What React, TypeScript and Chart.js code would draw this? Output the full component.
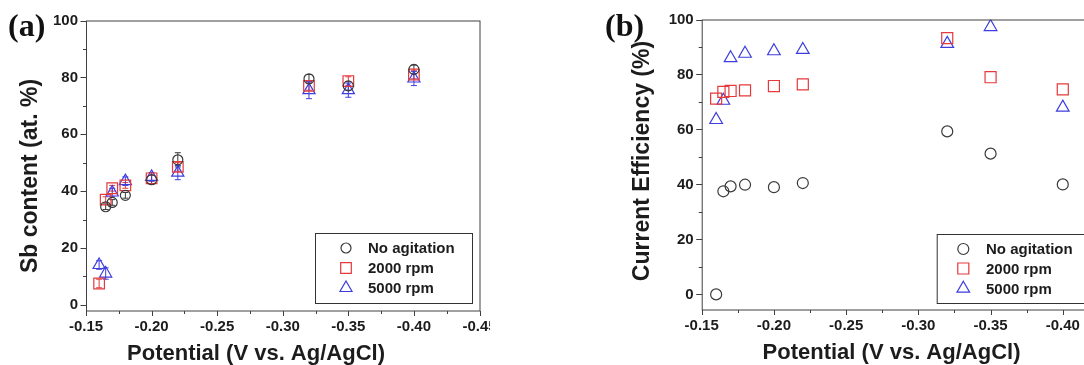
import React, { useEffect, useRef } from "react";
import { Chart, registerables } from "chart.js";

Chart.register(...registerables);

// ---- Panel (a): Sb content (at. %) versus deposition potential ----
const sbPotentialNone = [-0.165, -0.17, -0.18, -0.2, -0.22, -0.32, -0.35, -0.4];
const sbNone = [34.5, 36, 38.5, 44, 51, 79.5, 77, 82.8];
const sbNoneErr = [1, 1, 1, 1.5, 2.5, 1.5, 1.5, 1.5];

const sbPotential2000 = [-0.16, -0.165, -0.17, -0.18, -0.2, -0.22, -0.32, -0.35, -0.4];
const sb2000 = [7.5, 37, 41, 42, 44.5, 48.5, 77, 78.7, 81];
const sb2000Err = [1.5, 1, 1, 1, 1, 1.5, 1.5, 1.5, 1.5];

const sbPotential5000 = [-0.16, -0.165, -0.17, -0.18, -0.2, -0.22, -0.32, -0.35, -0.4];
const sb5000 = [14, 11, 39.5, 43.5, 45, 46.5, 75.5, 75.5, 79.6];
const sb5000Err = [1.5, 2, 1.5, 1.5, 1.5, 2.5, 3, 2.5, 2.5];

// ---- Panel (b): current efficiency (%) versus deposition potential ----
const cePotential = [-0.16, -0.165, -0.17, -0.18, -0.2, -0.22, -0.32, -0.35, -0.4];
const ceNone = [0, 37.5, 39.3, 39.9, 39, 40.5, 59.3, 51.2, 40];
const ce2000 = [71.2, 73.7, 74, 74.2, 75.8, 76.4, 93.2, 79, 74.6];
const ce5000 = [63.5, 70.5, 86, 87.6, 88.5, 89, 91.2, 97.3, 68];

// ---- Series names and axis settings ----
const seriesLabels = ["No agitation", "2000 rpm", "5000 rpm"];
const potentialRange = [-0.45, -0.15];
const potentialStep = 0.025;
const sbRange = [-2, 100];
const ceRange = [-5.5, 100];
const percentStep = 10;

const xTitle = "Potential (V vs. Ag/AgCl)";
const yTitleA = "Sb content (at. %)";
const yTitleB = "Current Efficiency (%)";

const SANS = "'Liberation Sans', Arial, Helvetica, sans-serif";
const SERIF = "'Liberation Serif', 'Times New Roman', serif";
const TEXT = "#1c1c1c";
const FRAME = "#404040";
const COLORS = ["#3a3a3a", "#e5393b", "#3d3de0"];
const STYLES = ["circle", "rect", "triangle"];

type Box = { x: number; y: number; w: number; h: number };

type PanelSpec = {
  tag: string;
  canvasW: number;
  canvasH: number;
  area: { left: number; right: number; top: number; bottom: number };
  yRange: number[];
  yTitle: string;
  xTitlePos: [number, number];
  yTitlePos: [number, number];
  titleSize: number;
  yTitleSize: number;
  tagPos: [number, number];
  legend: Box & { markerDx: number; textDx: number; rows: number[] };
  radii: number[];
  series: { x: number[]; y: number[]; err?: number[] }[];
};

function drawMarker(ctx: CanvasRenderingContext2D, style: string, x: number, y: number, r: number) {
  ctx.beginPath();
  if (style === "circle") {
    ctx.arc(x, y, r, 0, Math.PI * 2);
  } else if (style === "rect") {
    const s = Math.SQRT1_2 * r;
    ctx.rect(x - s, y - s, 2 * s, 2 * s);
  } else {
    ctx.moveTo(x, y - r);
    ctx.lineTo(x + 0.866 * r, y + 0.5 * r);
    ctx.lineTo(x - 0.866 * r, y + 0.5 * r);
    ctx.closePath();
  }
  ctx.stroke();
}

const isMajorX = (v: number) => Math.round(v * 1000) % 50 === 0;
const isMajorY = (v: number) => Math.round(v) % 20 === 0;

// Frame, minor/major ticks, error bars, legend box, axis titles and panel tag
const decor = {
  id: "decor",
  beforeDatasetsDraw(chart: any) {
    const ctx: CanvasRenderingContext2D = chart.ctx;
    const xs = chart.scales.x;
    const ys = chart.scales.y;
    ctx.save();
    ctx.lineWidth = 1;
    chart.data.datasets.forEach((ds: any, i: number) => {
      if (!ds.errorBars) return;
      ctx.strokeStyle = COLORS[i];
      ds.data.forEach((p: any, k: number) => {
        const e = ds.errorBars[k];
        const px = xs.getPixelForValue(p.x);
        const y1 = ys.getPixelForValue(p.y + e);
        const y2 = ys.getPixelForValue(p.y - e);
        ctx.beginPath();
        ctx.moveTo(px, y1);
        ctx.lineTo(px, y2);
        ctx.moveTo(px - 3, y1);
        ctx.lineTo(px + 3, y1);
        ctx.moveTo(px - 3, y2);
        ctx.lineTo(px + 3, y2);
        ctx.stroke();
      });
    });
    ctx.restore();
  },
  afterDraw(chart: any) {
    const spec: PanelSpec = chart.options.plugins.decor.spec;
    const ctx: CanvasRenderingContext2D = chart.ctx;
    const { left, right, top, bottom } = chart.chartArea;
    const xs = chart.scales.x;
    const ys = chart.scales.y;
    ctx.save();

    // plot frame
    ctx.strokeStyle = FRAME;
    ctx.lineWidth = 1;
    ctx.strokeRect(left + 0.5, top + 0.5, right - left, bottom - top);

    // outward ticks
    ctx.beginPath();
    xs.ticks.forEach((t: any) => {
      const px = Math.round(xs.getPixelForValue(t.value)) + 0.5;
      const len = isMajorX(t.value) ? 5 : 3;
      ctx.moveTo(px, bottom + 0.5);
      ctx.lineTo(px, bottom + 0.5 + len);
    });
    ys.ticks.forEach((t: any) => {
      if (Math.round(t.value) % 10 !== 0) return;
      const py = Math.round(ys.getPixelForValue(t.value)) + 0.5;
      const len = isMajorY(t.value) ? 6 : 3.5;
      ctx.moveTo(left + 0.5, py);
      ctx.lineTo(left + 0.5 - len, py);
    });
    ctx.stroke();

    // legend
    const lg = spec.legend;
    ctx.strokeStyle = "#333";
    ctx.strokeRect(lg.x + 0.5, lg.y + 0.5, lg.w, lg.h);
    ctx.font = `bold 15px ${SANS}`;
    ctx.textBaseline = "middle";
    ctx.textAlign = "left";
    seriesLabels.forEach((label, i) => {
      const ry = lg.y + lg.rows[i];
      ctx.strokeStyle = COLORS[i];
      ctx.lineWidth = 1.2;
      drawMarker(ctx, STYLES[i], lg.x + lg.markerDx, ry, spec.radii[i]);
      ctx.fillStyle = TEXT;
      ctx.fillText(label, lg.x + lg.textDx, ry + 1);
    });

    // axis titles
    ctx.fillStyle = TEXT;
    ctx.textAlign = "center";
    ctx.textBaseline = "middle";
    ctx.font = `bold ${spec.titleSize}px ${SANS}`;
    ctx.fillText(xTitle, spec.xTitlePos[0], spec.xTitlePos[1]);
    ctx.save();
    ctx.translate(spec.yTitlePos[0], spec.yTitlePos[1]);
    ctx.rotate(-Math.PI / 2);
    ctx.font = `bold ${spec.yTitleSize}px ${SANS}`;
    ctx.fillText(spec.yTitle, 0, 0);
    ctx.restore();

    // panel tag
    ctx.font = `bold 32px ${SERIF}`;
    ctx.textAlign = "left";
    ctx.textBaseline = "alphabetic";
    ctx.fillStyle = "#111";
    ctx.fillText(spec.tag, spec.tagPos[0], spec.tagPos[1]);
    ctx.restore();
  },
};

function buildPanel(canvas: HTMLCanvasElement, spec: PanelSpec) {
  const a = spec.area;
  return new Chart(canvas, {
    type: "scatter",
    data: {
      datasets: spec.series.map((s, i) => ({
        label: seriesLabels[i],
        data: s.x.map((x, k) => ({ x, y: s.y[k] })),
        pointStyle: STYLES[i],
        pointRadius: spec.radii[i],
        pointHoverRadius: spec.radii[i],
        borderColor: COLORS[i],
        backgroundColor: "rgba(0,0,0,0)",
        pointBorderWidth: 1.2,
        showLine: false,
        errorBars: s.err,
      })) as any,
    },
    options: {
      responsive: false,
      animation: false,
      events: [],
      layout: { padding: { left: 0, top: a.top, right: spec.canvasW - a.right, bottom: 0 } },
      plugins: {
        legend: { display: false },
        tooltip: { enabled: false },
        decor: { spec },
      } as any,
      scales: {
        x: {
          type: "linear",
          reverse: true,
          min: potentialRange[0],
          max: potentialRange[1],
          grid: { display: false, drawTicks: false },
          border: { display: false },
          ticks: {
            stepSize: potentialStep,
            autoSkip: false,
            maxRotation: 0,
            includeBounds: false,
            padding: 7,
            color: TEXT,
            font: { family: SANS, size: 15, weight: "bold" },
            callback: (v: any) => (isMajorX(Number(v)) ? Number(v).toFixed(2) : ""),
          },
          afterFit: (s: any) => {
            s.height = spec.canvasH - a.bottom;
            s.paddingLeft = 0;
            s.paddingRight = 0;
          },
        },
        y: {
          type: "linear",
          min: spec.yRange[0],
          max: spec.yRange[1],
          grid: { display: false, drawTicks: false },
          border: { display: false },
          ticks: {
            stepSize: percentStep,
            autoSkip: false,
            includeBounds: false,
            padding: 8,
            color: TEXT,
            font: { family: SANS, size: 15, weight: "bold" },
            callback: (v: any) => (isMajorY(Number(v)) ? String(Math.round(Number(v))) : ""),
          },
          afterFit: (s: any) => {
            s.width = a.left;
            s.paddingTop = 0;
            s.paddingBottom = 0;
          },
        },
      } as any,
    },
    plugins: [decor as any],
  });
}

const panelA: PanelSpec = {
  tag: "(a)",
  canvasW: 490,
  canvasH: 365,
  area: { left: 86, right: 479.5, top: 20.5, bottom: 310.5 },
  yRange: sbRange,
  yTitle: yTitleA,
  xTitlePos: [256, 354],
  yTitlePos: [31, 176],
  titleSize: 22,
  yTitleSize: 23,
  tagPos: [8, 36],
  legend: { x: 315, y: 233, w: 157, h: 70, markerDx: 31, textDx: 53, rows: [15, 35, 55] },
  radii: [5, 7.5, 7],
  series: [
    { x: sbPotentialNone, y: sbNone, err: sbNoneErr },
    { x: sbPotential2000, y: sb2000, err: sb2000Err },
    { x: sbPotential5000, y: sb5000, err: sb5000Err },
  ],
};

const panelB: PanelSpec = {
  tag: "(b)",
  canvasW: 560,
  canvasH: 365,
  area: { left: 111.7, right: 545, top: 19.5, bottom: 309.5 },
  yRange: ceRange,
  yTitle: yTitleB,
  xTitlePos: [301.5, 353],
  yTitlePos: [53, 161],
  titleSize: 22,
  yTitleSize: 23,
  tagPos: [15, 36],
  legend: { x: 346.7, y: 234, w: 155, h: 69, markerDx: 26.6, textDx: 49.3, rows: [15, 34.5, 54.5] },
  radii: [5.5, 7.8, 7.3],
  series: [
    { x: cePotential, y: ceNone },
    { x: cePotential, y: ce2000 },
    { x: cePotential, y: ce5000 },
  ],
};

export default function App() {
  const refA = useRef<HTMLCanvasElement>(null);
  const refB = useRef<HTMLCanvasElement>(null);

  useEffect(() => {
    const a = buildPanel(refA.current!, panelA);
    const b = buildPanel(refB.current!, panelB);
    return () => {
      a.destroy();
      b.destroy();
    };
  }, []);

  return (
    <div
      style={{
        position: "absolute",
        left: 0,
        top: 0,
        width: 1084,
        height: 365,
        overflow: "hidden",
        background: "#fff",
      }}
    >
      <canvas
        ref={refA}
        width={490}
        height={365}
        style={{ position: "absolute", left: 0, top: 0, width: 490, height: 365 }}
      />
      <canvas
        ref={refB}
        width={560}
        height={365}
        style={{ position: "absolute", left: 590, top: 0, width: 560, height: 365 }}
      />
    </div>
  );
}
